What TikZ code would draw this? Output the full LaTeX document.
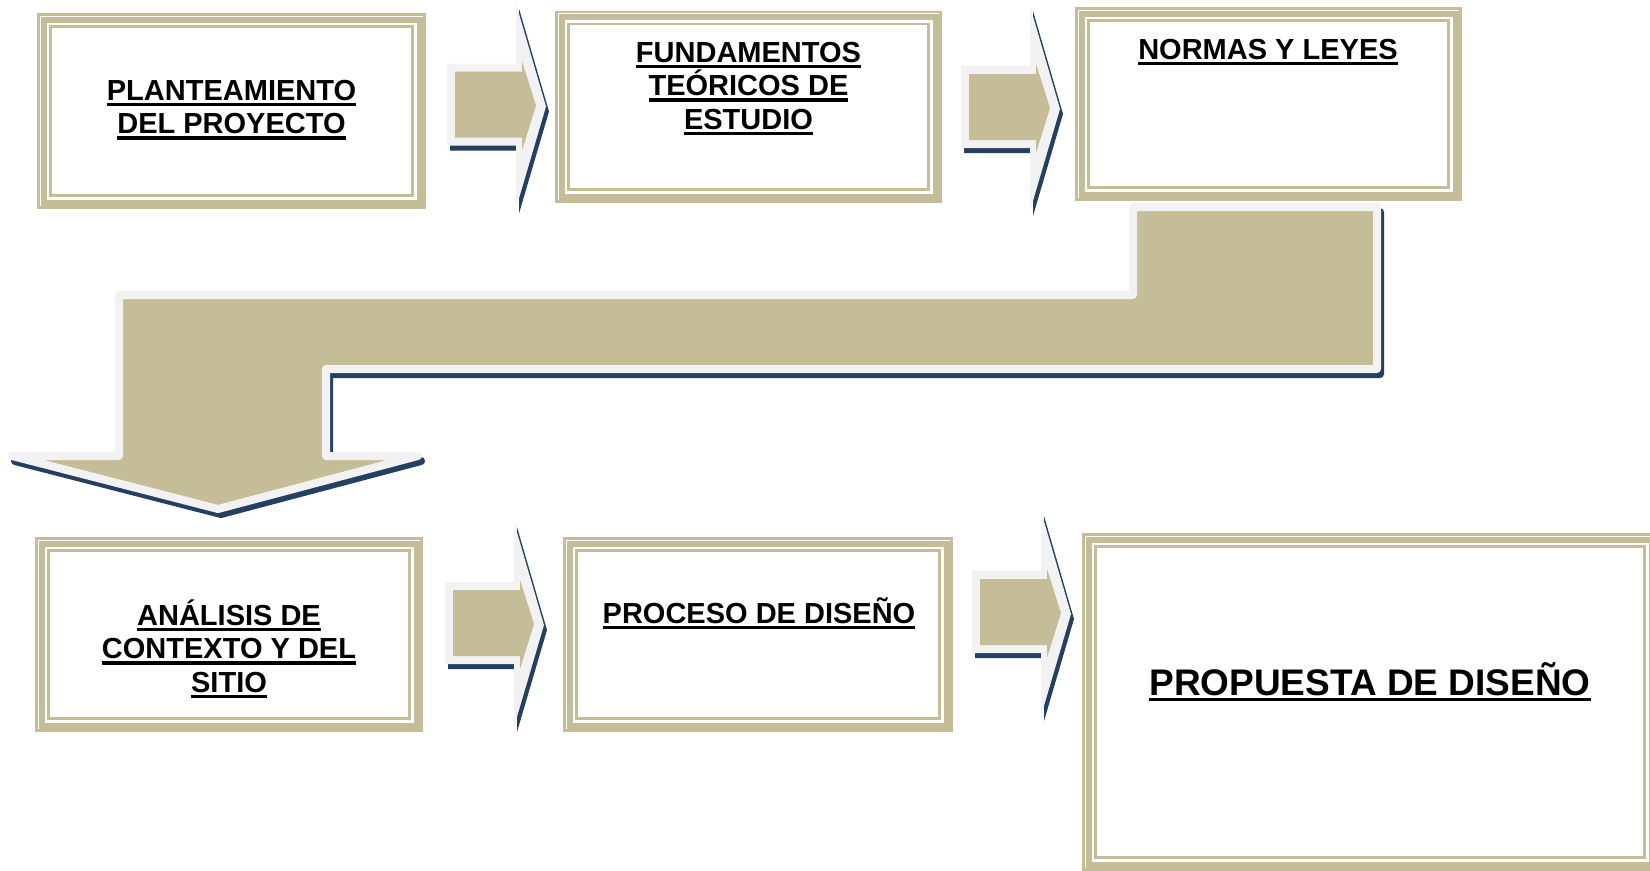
\documentclass[tikz,border=0pt]{standalone}
\usepackage{fontspec}
\setmainfont{Liberation Sans}
\usetikzlibrary{calc}
\definecolor{tanc}{HTML}{C4BD97}
\definecolor{lgray}{HTML}{F2F2F2}
\definecolor{navy}{HTML}{243F60}
\newcommand\ulx[1]{\setbox0=\hbox{#1}\rlap{\vrule height -2.8bp depth 6.1bp width \wd0}\box0}
\tikzset{
  boxnode/.style={rectangle, inner sep=0pt, outer sep=0pt, fill=white},
  bline/.style={draw=tanc},
  lbl/.style={anchor=base, inner sep=0pt, text=black, font=\fontsize{29bp}{33.5bp}\selectfont\bfseries},
  shadowfill/.style={fill=navy},
  grayfill/.style={fill=lgray},
  tanfill/.style={fill=tanc},
}
\newcommand\dframe[5]{%
  \node[boxnode, minimum width={(#4-#2)*1bp}, minimum height={(#5-#3)*1bp}] (#1) at ({(#2+#4)/2},{(#3+#5)/2}) {};
  \draw[bline, line width=2.8bp] ([shift={(1.4,1.4)}]#1.north west) rectangle ([shift={(-1.4,-1.4)}]#1.south east);
  \draw[bline, line width=6bp] ([shift={(6.5,6.5)}]#1.north west) rectangle ([shift={(-6.5,-6.5)}]#1.south east);
  \draw[bline, line width=2.6bp] ([shift={(13.3,13.3)}]#1.north west) rectangle ([shift={(-13.3,-13.3)}]#1.south east);
}
\def\grayarrow{(0,-41) -- (69,-41) -- (69,-101) -- (99,2) -- (69,104) -- (69,41) -- (0,41) -- cycle}
\def\tanarrow{(8,-33) -- (75,-33) -- (75,-43) -- (89,1) -- (75,46) -- (75,33) -- (8,33) -- cycle}
\newcommand\rarrow[2]{%
  \begin{scope}[shift={(#1,#2)}]
    \begin{scope}[shift={(3,5)}]\fill[shadowfill] \grayarrow;\end{scope}
    \fill[grayfill] \grayarrow;
    \fill[tanfill] \tanarrow;
  \end{scope}}
\def\bigarrow{(1133,207) -- (1377,207) -- (1377,369) -- (326,369) -- (326,456) -- (418,456) -- (218,509) -- (12,456) -- (119,456) -- (119,295) -- (1133,295) -- cycle}
\begin{document}
\begin{tikzpicture}[x=1bp,y=-1bp]
\useasboundingbox (0,0) rectangle (1650,870);
\clip (0,0) rectangle (1650,870);
\fill[white] (0,0) rectangle (1650,870);

% boxes
\dframe{b1}{37}{13}{426}{209}
\dframe{b2}{555}{10.5}{942}{203}
\dframe{b3}{1075}{7}{1462}{201}
\dframe{b4}{35}{537}{423}{732}
\dframe{b5}{563}{537}{953}{732}
\dframe{b6}{1082}{533}{1658}{871}

% small arrows
\rarrow{447}{104.5}
\rarrow{961}{107}
\rarrow{445}{623}
\rarrow{972}{612}

% big bent arrow
\begin{scope}[shift={(3,5)}]
  \filldraw[navy, line width=8bp, line join=round] \bigarrow;
\end{scope}
\filldraw[fill=tanc, draw=lgray, line width=8bp, line join=round] \bigarrow;

% labels
\node[lbl] (t1a) at (231.5,100) {\ulx{PLANTEAMIENTO}};
\node[lbl] (t1b) at (231.5,133.5) {\ulx{DEL PROYECTO}};
\node[lbl] (t2a) at (748.5,62) {\ulx{FUNDAMENTOS}};
\node[lbl] (t2b) at (748.5,95.5) {\ulx{TEÓRICOS DE}};
\node[lbl] (t2c) at (748.5,129) {\ulx{ESTUDIO}};
\node[lbl] (t3) at (1268,59) {\ulx{NORMAS Y LEYES}};
\node[lbl] (t4a) at (229,625) {\ulx{ANÁLISIS DE}};
\node[lbl] (t4b) at (229,658.5) {\ulx{CONTEXTO Y DEL}};
\node[lbl] (t4c) at (229,692) {\ulx{SITIO}};
\node[lbl] (t5) at (759,623) {\ulx{PROCESO DE DISEÑO}};
\node[lbl, font=\fontsize{37bp}{42bp}\selectfont\bfseries] (t6) at (1370,695) {\ulx{PROPUESTA DE DISEÑO}};
\end{tikzpicture}
\end{document}
